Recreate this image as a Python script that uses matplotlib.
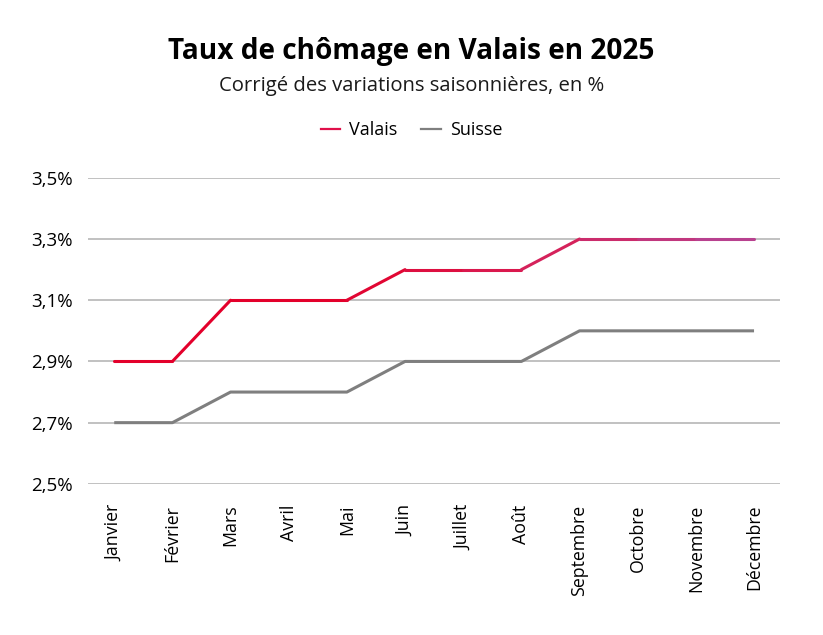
import numpy as np
import matplotlib.pyplot as plt
from matplotlib.collections import LineCollection
from matplotlib.colors import LinearSegmentedColormap
from matplotlib.lines import Line2D
from matplotlib.ticker import FuncFormatter

plt.rcParams["font.family"] = ["Open Sans", "DejaVu Sans"]

months = ["Janvier", "Février", "Mars", "Avril", "Mai", "Juin", "Juillet",
          "Août", "Septembre", "Octobre", "Novembre", "Décembre"]
valais = [2.9, 2.9, 3.1, 3.1, 3.1, 3.2, 3.2, 3.2, 3.3, 3.3, 3.3, 3.3]
suisse = [2.7, 2.7, 2.8, 2.8, 2.8, 2.9, 2.9, 2.9, 3.0, 3.0, 3.0, 3.0]
yticks = [2.5, 2.7, 2.9, 3.1, 3.3, 3.5]

red_cmap = LinearSegmentedColormap.from_list(
    "valais", ["#e3002b", "#e3002b", "#d81e55", "#b8418f"])

fig = plt.figure(figsize=(8.23, 6.35), dpi=100)
ax = fig.add_axes([0.107, 0.238, 0.841, 0.482])

x = np.arange(len(months))

# grid
for y in yticks:
    ax.axhline(y, color="#b0b0b0", lw=1.1, zorder=1)

ax.plot(x, suisse, color="#7f7f7f", lw=2.2, solid_capstyle="butt", zorder=3)

pts = np.column_stack([x, valais])
segs = np.stack([pts[:-1], pts[1:]], axis=1)
lc = LineCollection(segs, colors=red_cmap(np.linspace(0, 1, len(segs))),
                    linewidths=2.2, capstyle="round", zorder=4)
ax.add_collection(lc)

ax.set_xlim(-0.45, len(months) - 0.55)
ax.set_ylim(2.5, 3.5)
ax.set_xticks(x)
ax.set_xticklabels(months, rotation=90, fontsize=12.8)
ax.set_yticks(yticks)
ax.yaxis.set_major_formatter(FuncFormatter(lambda v, p: f"{v:.1f}%".replace(".", ",")))
ax.tick_params(axis="y", labelsize=13.5, length=0, pad=11)
ax.tick_params(axis="x", length=0, pad=15)
for s in ax.spines.values():
    s.set_visible(False)

fig.text(0.5, 0.907, "Taux de chômage en Valais en 2025", ha="center", va="baseline",
         fontsize=20.2, fontweight="bold", color="#000000")
fig.text(0.5, 0.857, "Corrigé des variations saisonnières, en %", ha="center",
         va="baseline", fontsize=14.6, color="#1a1a1a")

handles = [Line2D([], [], color="#e0104a", lw=1.6),
           Line2D([], [], color="#7f7f7f", lw=1.6)]
fig.legend(handles, ["Valais", "Suisse"], loc="center", bbox_to_anchor=(0.5, 0.795),
           ncol=2, frameon=False, fontsize=13, handlelength=1.1,
           handletextpad=0.5, columnspacing=1.3)

fig.savefig("out.png", dpi=100)
